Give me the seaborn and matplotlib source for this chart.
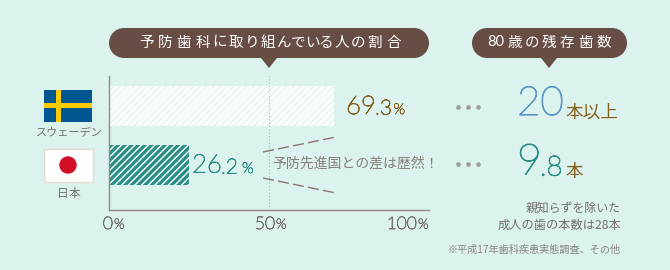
import pandas as pd
import matplotlib
matplotlib.use('Agg')
import matplotlib.pyplot as plt
import matplotlib.patheffects as pe
from matplotlib.patches import Polygon, Rectangle, Circle
import seaborn as sns

# values
countries = ['スウェーデン', '日本']
bar_lengths = [70.2, 25.0]   # bars as drawn
shares = [('69', '.3'), ('26', '.2')]
tick_vals = [0, 50, 100]
tick_labels = ['0', '50', '100']
teeth = ['20', '9', '.8']

BG = '#dcf2ee'
BROWN = '#674d44'
TEAL = '#2a8f86'
GREY = '#6f6f6f'
GOLD = '#84601a'
JP = ['Noto Sans CJK JP', 'DejaVu Sans']
NUM = ['Lato', 'DejaVu Sans']

sns.set_theme(style='white')
plt.rcParams['font.family'] = JP
plt.rcParams['hatch.linewidth'] = 1.0

W, H = 670, 270
fig = plt.figure(figsize=(W / 100, H / 100), dpi=100, facecolor=BG)

# chart axes, placed in pixels
ax = fig.add_axes([109 / W, 1 - 210 / H, 320 / W, 134 / H], facecolor='none')
df = pd.DataFrame({'country': countries, 'share': bar_lengths})
sns.barplot(data=df, x='share', y='country', ax=ax, color='white', width=0.678, saturation=1)
ax.set_xlim(0, 100)
ax.set_ylim(1.763, -0.508)
for bar, face, hatch_col in zip(ax.patches, ['white', TEAL], ['#dcf2ee', 'white']):
    bar.set_facecolor(face)
    bar.set_edgecolor(hatch_col)
    bar.set_hatch('/////')
    bar.set_linewidth(0)
ax.axvline(50, color='#a9b3b1', lw=0.8, ls=(0, (1, 2)), zorder=5)
ax.set_xlabel('')
ax.set_ylabel('')
ax.set_xticks(tick_vals)
ax.set_xticklabels([])
ax.set_yticks([])
ax.tick_params(length=0)
sns.despine(ax=ax)
for s in ['left', 'bottom']:
    ax.spines[s].set_color('#8f8b88')
    ax.spines[s].set_linewidth(1.0)

# overlay in pixel coordinates for the annotations
ov = fig.add_axes([0, 0, 1, 1], facecolor='none')
ov.set_xlim(0, W)
ov.set_ylim(H, 0)
ov.axis('off')


def num(x, y, s, color, size, ha='left', stroke=0.6):
    # the light weight comes out hairline thin, so thicken it a little
    t = ov.text(x, y, s, color=color, fontsize=size, ha=ha, va='center', family=NUM, fontweight='light')
    t.set_path_effects([pe.withStroke(linewidth=stroke, foreground=color)])


def callout(x0, x1, tip):
    ov.add_patch(Rectangle((x0 + 15, 28), x1 - x0 - 30, 30, fc=BROWN, ec='none'))
    ov.add_patch(Circle((x0 + 15, 43), 15, fc=BROWN, ec='none'))
    ov.add_patch(Circle((x1 - 15, 43), 15, fc=BROWN, ec='none'))
    ov.add_patch(Polygon([(tip - 8, 58), (tip + 8, 58), (tip, 68)], fc=BROWN, ec='none'))


def spaced(label, x, y, kanji, kana, size):
    # kana sit closer together than kanji in the headings
    prev = None
    for ch in label:
        w = kana if '\u3040' <= ch <= '\u309f' else kanji
        if prev is not None:
            x += (prev + w) / 2
        ov.text(x, y, ch, color='white', fontsize=size, ha='center', va='center')
        prev = w


callout(109, 429, 269)
callout(472, 627, 549)
spaced('予防歯科に取り組んでいる人の割合', 146, 42.5, 19, 13.7, 10.5)
spaced('歳の残存歯数', 515, 42.5, 18.5, 15, 10.5)
ov.text(496, 42.5, '80', color='white', fontsize=10.5, ha='center', va='center', family=NUM)

# flags
ov.add_patch(Rectangle((44, 90), 48, 32, fc='#00568f', ec='none'))
ov.add_patch(Rectangle((56, 90), 5, 32, fc='#fccb00', ec='none'))
ov.add_patch(Rectangle((44, 103), 48, 5, fc='#fccb00', ec='none'))
ov.add_patch(Rectangle((43.5, 148.5), 49, 33, fc='white', ec='#e3dcd0', lw=1))
ov.add_patch(Circle((68, 165), 8.7, fc='#d20f26', ec='none'))
ov.text(69.5, 133, countries[0], color=GREY, fontsize=8, ha='center', va='center')
ov.text(62.5, 193, countries[1][0], color=GREY, fontsize=8.5, ha='center', va='center')
ov.text(74.5, 193, countries[1][1], color=GREY, fontsize=8.5, ha='center', va='center')

# tick labels with smaller percent signs
for lab, xp in zip(tick_labels, [113, 275, 417]):
    num(xp, 224, lab, GREY, 12.5, ha='right', stroke=0.5)
    num(xp + 1, 225, '%', GREY, 10, stroke=0.4)

# share labels
num(346, 107, shares[0][0], GOLD, 18.5)
num(375, 108.5, shares[0][1], GOLD, 15)
num(393.5, 110, '%', GOLD, 11, stroke=0.4)
num(192, 165.5, shares[1][0], TEAL, 18.5)
num(221, 167.5, shares[1][1], TEAL, 15)
num(242, 169, '%', TEAL, 11, stroke=0.4)

# gap note
ov.plot([263, 336], [152, 137], color='#8a7870', lw=1, ls=(0, (8, 3)))
ov.plot([263, 336], [178, 193], color='#8a7870', lw=1, ls=(0, (8, 3)))
ov.text(356, 164, '予防先進国との差は歴然！', color='#85807a', fontsize=10, ha='center', va='center')

# dots
for y in [107, 164]:
    ov.scatter([458, 468, 478], [y, y, y], s=11, color='#9d9a98', linewidths=0)

# remaining teeth
num(517, 104, teeth[0], '#5b97c6', 29, stroke=0.8)
ov.text(565, 113, '本以上', color=GOLD, fontsize=12.7, ha='left', va='center')
num(517, 163, teeth[1], TEAL, 31, stroke=0.8)
num(540, 168, teeth[2], TEAL, 20, stroke=0.7)
ov.text(565, 172, '本', color=GOLD, fontsize=12.7, ha='left', va='center')

ov.text(621, 208, '親知らずを除いた', color=GREY, fontsize=8.6, ha='right', va='center')
ov.text(621, 225, '成人の歯の本数は28本', color=GREY, fontsize=8.8, ha='right', va='center')
ov.text(621, 250, '※平成17年歯科疾患実態調査、その他', color='#858585', fontsize=7.3, ha='right', va='center')

fig.savefig('out.png', dpi=100, facecolor=BG)
